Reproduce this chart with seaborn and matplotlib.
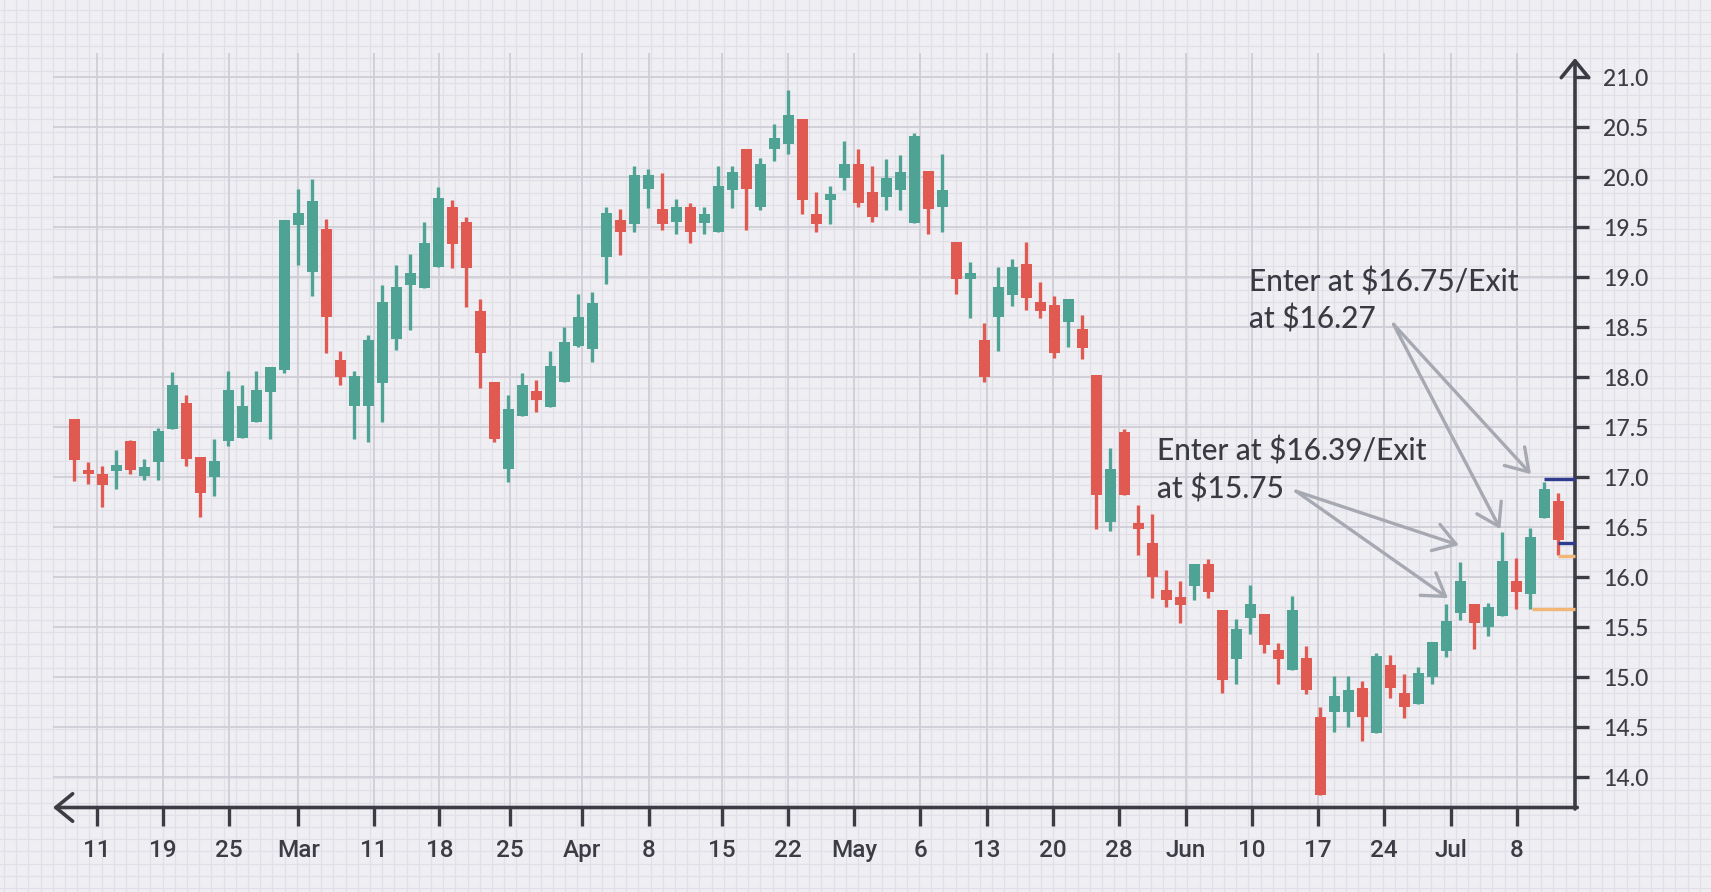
import numpy as np
import pandas as pd
import matplotlib
matplotlib.use("Agg")
import matplotlib.pyplot as plt
import seaborn as sns

# ---------------- data ----------------
opens = [17.58, 17.07, 17.03, 17.06, 17.36, 17.01, 17.15, 17.48, 17.74, 17.20,
         17.00, 17.36, 17.39, 17.55, 17.85, 18.07, 19.52, 19.05, 19.48, 18.17,
         17.71, 17.71, 17.94, 18.38, 18.92, 18.89, 19.10, 19.70, 19.55, 18.66,
         17.95, 17.08, 17.61, 17.86, 17.70, 17.95, 18.31, 18.28, 19.20, 19.57,
         19.53, 19.88, 19.68, 19.55, 19.70, 19.54, 19.45, 19.87, 20.28, 19.70,
         20.28, 20.33, 20.58, 19.63, 19.77, 19.99, 20.13, 19.85, 19.80, 19.87,
         19.54, 20.06, 19.70, 19.35, 18.98, 18.37, 18.60, 18.82, 19.13, 18.75,
         18.72, 18.55, 18.48, 18.02, 16.55, 17.45, 16.54, 16.34, 15.87, 15.80,
         15.91, 16.13, 15.67, 15.18, 15.59, 15.63, 15.27, 15.07, 15.19, 14.60,
         14.65, 14.65, 14.89, 14.44, 15.12, 14.84, 14.73, 15.00, 15.26, 15.64,
         15.73, 15.50, 15.61, 15.96, 15.83, 16.59, 16.76]
highs = [17.58, 17.15, 17.11, 17.27, 17.37, 17.18, 17.49, 18.05, 17.82, 17.20,
         17.38, 18.06, 17.92, 18.06, 18.10, 19.57, 19.88, 19.98, 19.58, 18.26,
         18.06, 18.42, 18.92, 19.12, 19.23, 19.55, 19.90, 19.77, 19.60, 18.78,
         17.95, 17.82, 18.04, 17.97, 18.26, 18.50, 18.83, 18.85, 19.70, 19.68,
         20.11, 20.08, 20.04, 19.78, 19.74, 19.70, 20.11, 20.11, 20.28, 20.19,
         20.53, 20.87, 20.58, 19.85, 19.91, 20.36, 20.28, 20.11, 20.18, 20.22,
         20.44, 20.06, 20.23, 19.35, 19.15, 18.54, 19.10, 19.18, 19.35, 18.95,
         18.81, 18.78, 18.62, 18.02, 17.29, 17.48, 16.72, 16.63, 16.07, 15.96,
         16.13, 16.18, 15.67, 15.58, 15.92, 15.63, 15.34, 15.81, 15.31, 14.70,
         15.01, 15.01, 14.96, 15.24, 15.22, 15.03, 15.10, 15.35, 15.73, 16.15,
         15.73, 15.74, 16.45, 16.19, 16.49, 16.95, 16.84]
lows = [16.96, 16.93, 16.70, 16.88, 17.03, 16.97, 16.97, 17.48, 17.11, 16.60,
        16.81, 17.31, 17.39, 17.55, 17.38, 18.04, 19.12, 18.81, 18.24, 17.92,
        17.38, 17.35, 17.55, 18.27, 18.47, 18.89, 19.10, 19.09, 18.70, 17.89,
        17.35, 16.95, 17.61, 17.65, 17.70, 17.95, 18.30, 18.15, 18.93, 19.22,
        19.45, 19.69, 19.47, 19.43, 19.34, 19.43, 19.45, 19.69, 19.47, 19.67,
        20.16, 20.23, 19.63, 19.45, 19.53, 19.87, 19.70, 19.55, 19.67, 19.67,
        19.54, 19.43, 19.45, 18.83, 18.59, 17.95, 18.26, 18.71, 18.67, 18.59,
        18.19, 18.30, 18.18, 16.48, 16.46, 16.82, 16.22, 15.79, 15.70, 15.54,
        15.77, 15.79, 14.84, 14.93, 15.43, 15.24, 14.93, 15.07, 14.83, 13.82,
        14.45, 14.50, 14.36, 14.44, 14.79, 14.59, 14.73, 14.93, 15.20, 15.57,
        15.28, 15.41, 15.61, 15.68, 15.68, 16.59, 16.22]
closes = [17.17, 17.03, 16.92, 17.12, 17.07, 17.10, 17.46, 17.92, 17.18, 16.84,
          17.16, 17.87, 17.71, 17.87, 18.10, 19.57, 19.64, 19.76, 18.60, 18.00,
          18.01, 18.37, 18.75, 18.90, 19.04, 19.34, 19.79, 19.33, 19.09, 18.24,
          17.38, 17.68, 17.92, 17.77, 18.11, 18.35, 18.60, 18.74, 19.64, 19.45,
          20.02, 20.02, 19.53, 19.70, 19.45, 19.63, 19.91, 20.05, 19.88, 20.13,
          20.39, 20.62, 19.77, 19.53, 19.83, 20.13, 19.74, 19.60, 19.99, 20.05,
          20.41, 19.68, 19.87, 18.98, 19.04, 18.00, 18.90, 19.10, 18.79, 18.66,
          18.24, 18.78, 18.29, 16.82, 17.08, 16.82, 16.48, 16.00, 15.77, 15.72,
          16.13, 15.85, 14.97, 15.48, 15.73, 15.32, 15.18, 15.67, 14.87, 13.82,
          14.81, 14.87, 14.60, 15.21, 14.89, 14.70, 15.04, 15.35, 15.56, 15.96,
          15.54, 15.70, 16.16, 15.85, 16.40, 16.88, 16.37]

tick_labels = ["11", "19", "25", "Mar", "11", "18", "25", "Apr", "8", "15", "22",
               "May", "6", "13", "20", "28", "Jun", "10", "17", "24", "Jul", "8"]
tick_positions = [1.63, 6.33, 11.07, 16.01, 21.38, 26.08, 31.14, 36.27, 41.04,
                  46.26, 51.00, 55.71, 60.43, 65.17, 69.92, 74.63, 79.37, 84.13,
                  88.83, 93.57, 98.32, 103.03]
y_ticks = [14.0, 14.5, 15.0, 15.5, 16.0, 16.5, 17.0, 17.5, 18.0, 18.5, 19.0,
           19.5, 20.0, 20.5, 21.0]

# trade levels (price, starting candle)
level_prices = [16.98, 16.34, 16.21, 15.68]
level_starts = [105, 106, 106, 104.1]
level_colors = ["#2e3b8e", "#2e3b8e", "#f2b676", "#f2b676"]

annotations = [
    {"lines": ["Enter at $16.75/Exit", "at $16.27"], "text_xy": (83.9, [18.857, 18.49]),
     "start": (94.23, 18.53), "targets": [(104.05, 17.03), (101.86, 16.48)]},
    {"lines": ["Enter at $16.39/Exit", "at $15.75"], "text_xy": (77.31, [17.165, 16.79]),
     "start": (87.26, 16.86), "targets": [(98.9, 16.32), (98.12, 15.79)]},
]

df = pd.DataFrame({"open": opens, "high": highs, "low": lows, "close": closes})
df["idx"] = np.arange(len(df))
df["up"] = df["close"] >= df["open"]

# ---------------- style ----------------
sns.set_theme(style="white")
plt.rcParams["font.family"] = ["Lato", "DejaVu Sans"]

GREEN = "#4fa394"
RED = "#e05a52"
AXC = "#3c3c44"
BG = "#efeef3"

W, H, DPI = 1711, 892, 100
fig = plt.figure(figsize=(W / DPI, H / DPI), dpi=DPI)
fig.patch.set_facecolor(BG)

# graph paper background
bg = fig.add_axes([0, 0, 1, 1], zorder=-5)
bg.set_xlim(0, W)
bg.set_ylim(0, H)
bg.set_facecolor(BG)
for xx in np.arange(4, W, 12.2):
    bg.axvline(xx, color="#e1e0e8", lw=0.9)
for yy in np.arange(4, H, 12.2):
    bg.axhline(yy, color="#e1e0e8", lw=0.9)
bg.axis("off")

left, right = 53 / W, 1575 / W
bottom, top = 1 - 807.5 / H, 1 - 52.7 / H
ax = fig.add_axes([left, bottom, right - left, top - bottom])
ax.set_facecolor("none")
ax.set_xlim(-1.52, 107.19)
ax.set_ylim(13.695, 21.248)

# grid
ax.set_axisbelow(True)
ax.grid(True, color="#cfced7", lw=1.3)

# candles
colors = np.where(df["up"], GREEN, RED)
ax.vlines(df["idx"], df["low"], df["high"], colors=colors, lw=2.4, zorder=2)
body_bottom = np.minimum(df["open"], df["close"])
body_h = np.maximum(np.abs(df["close"] - df["open"]), 0.025)
ax.bar(df["idx"], body_h, bottom=body_bottom, width=0.8, color=colors,
       edgecolor="none", zorder=3)

# trade levels
xmax = ax.get_xlim()[1]
for p, s, c in zip(level_prices, level_starts, level_colors):
    ax.hlines(p, s, xmax, colors=c, lw=2.4, zorder=4, clip_on=False)

# annotations
for a in annotations:
    tx, tys = a["text_xy"]
    for line, ty in zip(a["lines"], tys):
        ax.text(tx, ty, line, fontsize=21.5, fontweight="medium", color="#3a3a42",
                ha="left", va="baseline", zorder=6)
    for tgt in a["targets"]:
        ax.annotate("", xy=tgt, xytext=a["start"],
                    arrowprops=dict(arrowstyle="->,head_length=0.7,head_width=0.45",
                                    color="#a7a9b2", lw=2.4, shrinkA=0, shrinkB=0,
                                    mutation_scale=22), zorder=5)

# axes
for sp in ax.spines.values():
    sp.set_visible(False)
ax.annotate("", xy=(0, 0), xytext=(1.0015, 0), xycoords="axes fraction",
            arrowprops=dict(arrowstyle="->,head_length=0.55,head_width=0.45",
                            color=AXC, lw=2.6, shrinkA=0, shrinkB=0,
                            mutation_scale=22), annotation_clip=False)
ax.annotate("", xy=(1, 0.993), xytext=(1, -0.002), xycoords="axes fraction",
            arrowprops=dict(arrowstyle="->,head_length=0.55,head_width=0.45",
                            color=AXC, lw=2.6, shrinkA=0, shrinkB=0,
                            mutation_scale=22), annotation_clip=False)

ax.set_xticks(tick_positions)
ax.set_xticklabels(tick_labels)
ax.set_yticks(y_ticks)
ax.set_yticklabels([f"{v:.1f}" for v in y_ticks])
ax.yaxis.tick_right()
ax.tick_params(axis="x", direction="out", length=13, width=2.4, color=AXC,
               labelcolor=AXC, labelsize=17.5, pad=10, bottom=True)
ax.tick_params(axis="y", direction="out", length=10, width=2.4, color=AXC,
               labelcolor=AXC, labelsize=16.5, pad=10, right=True, left=False)
for lab in ax.get_xticklabels():
    lab.set_family(["Liberation Sans Narrow", "Roboto", "DejaVu Sans"])
    lab.set_fontweight("medium")
for lab in ax.get_yticklabels():
    lab.set_fontweight("medium")
ax.set_xlabel("")
ax.set_ylabel("")

fig.savefig("out.png", dpi=DPI, facecolor=BG)
